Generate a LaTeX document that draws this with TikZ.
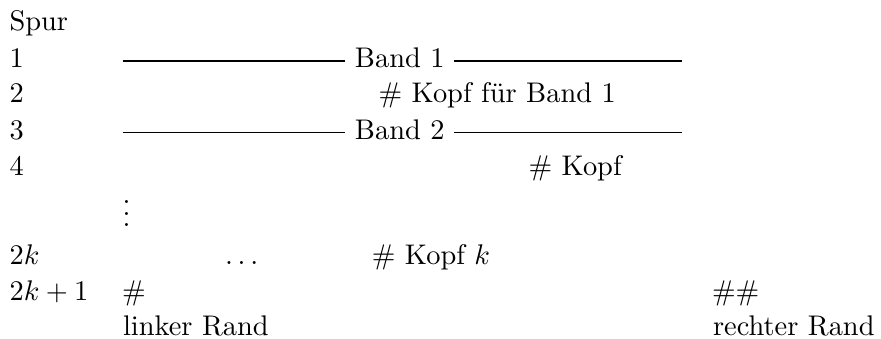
\documentclass[tikz,border=0pt]{standalone}
\begin{document}
\begin{tikzpicture}[x=0.35211pt,y=-0.35211pt,
  lbl/.style={anchor=base west,inner sep=0pt},
  bandlbl/.style={anchor=base west,inner ysep=0pt,inner xsep=3.3pt},
  track/.style={line width=0.4pt}]
\useasboundingbox (0,0) rectangle (881,338);

% track numbers
\node[lbl] (spur) at (9,30.7) {Spur};
\node[lbl] (n1) at (9,67) {1};
\node[lbl] (n2) at (9,102.5) {2};
\node[lbl] (n3) at (9,139.5) {3};
\node[lbl] (n4) at (9,175) {4};
\node[lbl] (vd) at (122,226.7) {$\vdots$};
\node[lbl] (n2k) at (9,264) {$2k$};
\node[lbl] (n2k1) at (9,300) {$2k+1$};

% tape 1 and its head
\coordinate (l1a) at (122.5,61);
\coordinate (l1b) at (681.7,61);
\node[bandlbl] (b1) at (345,67) {Band 1};
\draw[track] (l1a) -- (l1a -| b1.west);
\draw[track] (l1a -| b1.east) -- (l1b);
\node[lbl] (k1) at (378,102.5) {\# Kopf für Band 1};

% tape 2 and its head
\coordinate (l2a) at (122.5,132.7);
\coordinate (l2b) at (681.7,132.7);
\node[bandlbl] (b2) at (345,139.5) {Band 2};
\draw[track] (l2a) -- (l2a -| b2.west);
\draw[track] (l2a -| b2.east) -- (l2b);
\node[lbl] (k2) at (528,175) {\# Kopf};

% last head
\node[lbl] (dots) at (224.5,264) {$\ldots$};
\node[lbl] (kk) at (371.3,264) {\# Kopf $k$};

% boundary markers
\node[lbl] (lm) at (121.5,300) {\#};
\node[lbl] (rm) at (711.5,300) {\#\#};
\node[lbl] (lr) at (122.5,335) {linker Rand};
\node[lbl] (rr) at (712.5,335) {rechter Rand};
\end{tikzpicture}
\end{document}
